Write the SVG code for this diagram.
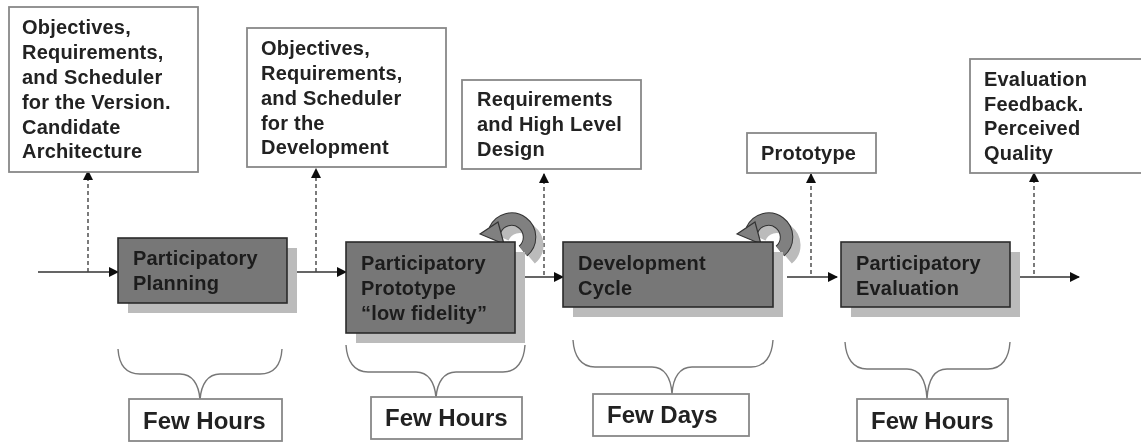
<svg xmlns="http://www.w3.org/2000/svg" width="1141" height="443" viewBox="0 0 1141 443">
<style>
.note{fill:#fff;stroke:#888;stroke-width:1.8}
.proc{stroke:#2a2a2a;stroke-width:1.6}
.shadow{fill:#bbb;stroke:none}
.t{font-family:"Liberation Sans",Arial,sans-serif;font-weight:700;font-size:20px;letter-spacing:.2px;fill:#222}
.p{fill:#1c1c1c}
.f{font-family:"Liberation Sans",Arial,sans-serif;font-weight:700;font-size:24px;fill:#222}
.flow{fill:none;stroke:#333;stroke-width:1.4;marker-end:url(#a)}
.dash{fill:none;stroke:#444;stroke-width:1.4;stroke-dasharray:4 3;marker-end:url(#a)}
.brace{fill:none;stroke:#777;stroke-width:1.4}
.ring{fill:none}
</style>
<defs>
<marker id="a" markerUnits="userSpaceOnUse" markerWidth="12" markerHeight="12" refX="9" refY="5" orient="auto"><path d="M0 0L10 5L0 10Z" fill="#111"/></marker>
<filter id="soft" x="-2%" y="-2%" width="104%" height="104%"><feGaussianBlur stdDeviation="0.55"/></filter>
</defs>
<rect width="1141" height="443" fill="#fff"/>
<g filter="url(#soft)">
<g id="connectors">
<path class="flow" d="M38 272H118"/>
<path class="flow" d="M288 272H346"/>
<path class="flow" d="M515 277H563"/>
<path class="flow" d="M787 277H837"/>
<path class="flow" d="M1010 277H1079"/>
<path class="dash" d="M88 272V171"/>
<path class="dash" d="M316 272V169"/>
<path class="dash" d="M544 275V174"/>
<path class="dash" d="M811 274V174"/>
<path class="dash" d="M1034 274V173"/>
</g>
<g id="note-version"><rect class="note" x="9" y="7" width="189" height="165"/>
<text class="t" x="22" y="34">Objectives,</text><text class="t" x="22" y="59">Requirements,</text><text class="t" x="22" y="84">and Scheduler</text><text class="t" x="22" y="109">for the Version.</text><text class="t" x="22" y="134">Candidate</text><text class="t" x="22" y="158">Architecture</text></g>
<g id="note-development"><rect class="note" x="247" y="28" width="199" height="139"/>
<text class="t" x="261" y="55">Objectives,</text><text class="t" x="261" y="80">Requirements,</text><text class="t" x="261" y="105">and Scheduler</text><text class="t" x="261" y="130">for the</text><text class="t" x="261" y="154">Development</text></g>
<g id="note-requirements"><rect class="note" x="462" y="80" width="179" height="89"/>
<text class="t" x="477" y="106">Requirements</text><text class="t" x="477" y="131">and High Level</text><text class="t" x="477" y="156">Design</text></g>
<g id="note-prototype"><rect class="note" x="747" y="133" width="129" height="40"/>
<text class="t" x="761" y="160">Prototype</text></g>
<g id="note-evaluation"><rect class="note" x="970" y="59" width="175" height="114"/>
<text class="t" x="984" y="86">Evaluation</text><text class="t" x="984" y="111">Feedback.</text><text class="t" x="984" y="135">Perceived</text><text class="t" x="984" y="160">Quality</text></g>
<g id="planning"><rect class="shadow" x="128" y="248" width="169" height="65"/><rect class="proc" fill="#777" x="118" y="238" width="169" height="65"/>
<text class="t p" x="133" y="265">Participatory</text><text class="t p" x="133" y="290">Planning</text></g>
<g id="prototype">
<path class="ring" stroke="#bbb" stroke-width="12" d="M503 238A18 18 0 1 1 531 259"/>
<path class="ring" stroke="#333" stroke-width="13.5" d="M495 230A18 18 0 1 1 523 251"/>
<path class="ring" stroke="#808080" stroke-width="11.5" d="M495 230A18 18 0 1 1 523 251"/>
<path d="M480 234L498 222L504 244Z" fill="#808080" stroke="#333" stroke-width="1.2"/>
<rect class="shadow" x="356" y="252" width="169" height="91"/><rect class="proc" fill="#777" x="346" y="242" width="169" height="91"/>
<text class="t p" x="361" y="270">Participatory</text><text class="t p" x="361" y="295">Prototype</text><text class="t p" x="361" y="320">“low fidelity”</text></g>
<g id="development">
<path class="ring" stroke="#bbb" stroke-width="12" d="M760 238A18 18 0 1 1 788 259"/>
<path class="ring" stroke="#333" stroke-width="13.5" d="M752 230A18 18 0 1 1 780 251"/>
<path class="ring" stroke="#808080" stroke-width="11.5" d="M752 230A18 18 0 1 1 780 251"/>
<path d="M737 234L755 222L761 244Z" fill="#808080" stroke="#333" stroke-width="1.2"/>
<rect class="shadow" x="573" y="252" width="210" height="65"/><rect class="proc" fill="#777" x="563" y="242" width="210" height="65"/>
<text class="t p" x="578" y="270">Development</text><text class="t p" x="578" y="295">Cycle</text></g>
<g id="evaluation"><rect class="shadow" x="851" y="252" width="169" height="65"/><rect class="proc" fill="#888" x="841" y="242" width="169" height="65"/>
<text class="t p" x="856" y="270">Participatory</text><text class="t p" x="856" y="295">Evaluation</text></g>
<g id="braces">
<path class="brace" d="M118 349C119 365 126 374 140 374H180C192 374 199 384 200 400C201 384 208 374 220 374H260C274 374 281 365 282 349"/>
<path class="brace" d="M346 345C347 361 354 372 368 372H416C428 372 435 382 436 398C437 382 444 372 456 372H503C517 372 524 361 525 345"/>
<path class="brace" d="M573 340C574 356 581 367 595 367H652C664 367 671 377 672 394C673 377 680 367 692 367H751C765 367 772 356 773 340"/>
<path class="brace" d="M845 342C846 358 853 369 867 369H907C919 369 926 379 927 399C928 379 935 369 947 369H988C1002 369 1009 358 1010 342"/>
</g>
<g id="time-1"><rect class="note" x="129" y="399" width="153" height="42"/><text class="f" x="143" y="429">Few Hours</text></g>
<g id="time-2"><rect class="note" x="371" y="397" width="151" height="42"/><text class="f" x="385" y="426">Few Hours</text></g>
<g id="time-3"><rect class="note" x="593" y="394" width="156" height="42"/><text class="f" x="607" y="423">Few Days</text></g>
<g id="time-4"><rect class="note" x="857" y="399" width="151" height="42"/><text class="f" x="871" y="429">Few Hours</text></g>
</g>
</svg>
